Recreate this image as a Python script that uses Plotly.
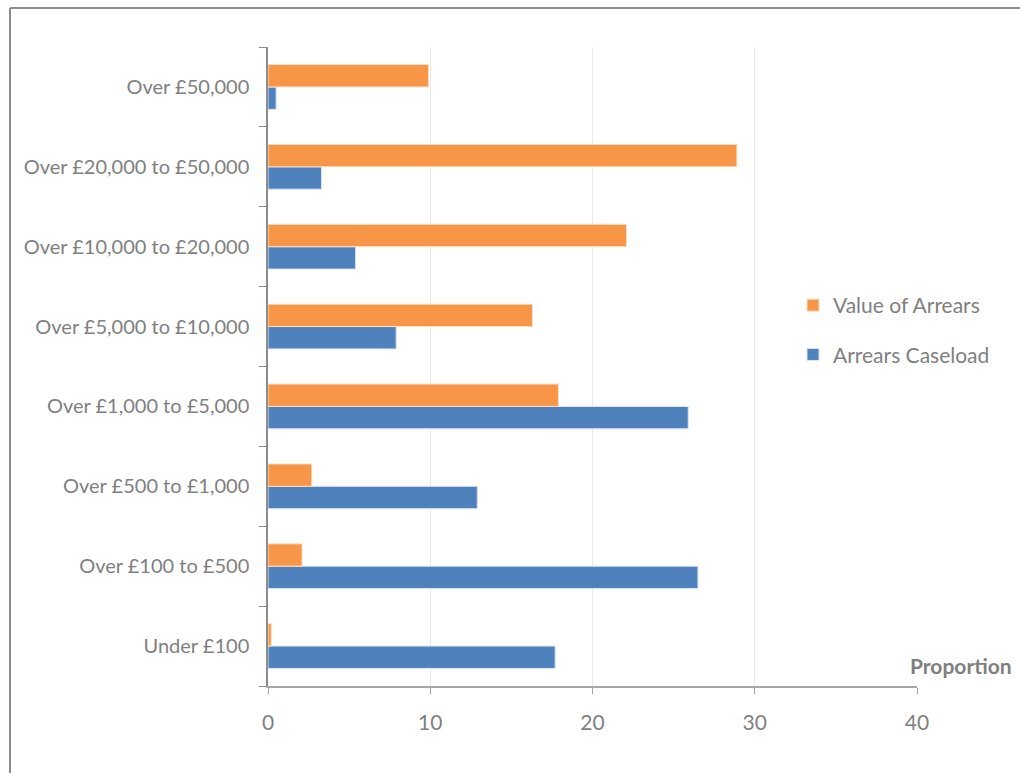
import plotly.graph_objects as go

categories = ["Under £100", "Over £100 to £500", "Over £500 to £1,000", "Over £1,000 to £5,000",
              "Over £5,000 to £10,000", "Over £10,000 to £20,000", "Over £20,000 to £50,000", "Over £50,000"]
value_of_arrears = [0.2, 2.1, 2.7, 17.9, 16.3, 22.1, 28.9, 9.9]
arrears_caseload = [17.7, 26.5, 12.9, 25.9, 7.9, 5.4, 3.3, 0.5]
x_ticks = [0, 10, 20, 30, 40]

BLUE = "#4F81BD"
ORANGE = "#F79646"
GREY = "#7f7f7f"
FONT = "Lato, 'Open Sans', sans-serif"

fig = go.Figure()
fig.add_trace(go.Bar(y=categories, x=arrears_caseload, orientation="h", name="Arrears Caseload",
                     marker=dict(color=BLUE, line=dict(color="#dbe5f1", width=1)),
                     legendgroup="b", legendrank=2))
fig.add_trace(go.Bar(y=categories, x=value_of_arrears, orientation="h", name="Value of Arrears",
                     marker=dict(color=ORANGE, line=dict(color="#fde0c8", width=1)),
                     legendgroup="a", legendrank=1))

L, R, T, B = 268, 917, 47, 686
W, H = 1020, 773
pw, ph = R - L, B - T

fig.update_layout(
    width=W, height=H,
    margin=dict(l=L, r=W - R, t=T, b=H - B, autoexpand=False),
    paper_bgcolor="white", plot_bgcolor="white",
    barmode="group", bargap=0.44, bargroupgap=0,
    font=dict(family=FONT, size=20, color=GREY),
    showlegend=True,
    legend=dict(x=(793 - L) / pw, y=(B - 285) / ph, xanchor="left", yanchor="top",
                traceorder="grouped", tracegroupgap=19, font=dict(size=21, color=GREY),
                bgcolor="rgba(0,0,0,0)", itemwidth=30),
    xaxis=dict(range=[0, 40], tickvals=x_ticks, ticktext=[str(v) for v in x_ticks],
               showgrid=True, gridcolor="#e9e9e9", gridwidth=1,
               showline=True, linecolor="#a6a6a6", linewidth=1.5,
               ticks="outside", ticklen=6, tickcolor="#a6a6a6",
               tickfont=dict(size=21, color=GREY), ticklabelstandoff=11, zeroline=False,
               fixedrange=True),
    yaxis=dict(categoryorder="array", categoryarray=categories,
               showline=True, linecolor="#8c8c8c", linewidth=1.5,
               ticks="outside", ticklen=7, tickcolor="#8c8c8c", tickson="boundaries",
               tickfont=dict(size=20, color=GREY), ticklabelstandoff=13, showgrid=False,
               fixedrange=True),
    annotations=[dict(text="<b>Proportion</b>", xref="paper", yref="paper",
                      x=(1014 - L) / pw, y=(B - 665) / ph, xanchor="right", yanchor="middle",
                      showarrow=False, font=dict(size=21, color=GREY))],
    shapes=[
        dict(type="line", xref="paper", yref="paper", x0=(10 - L) / pw, x1=(1030 - L) / pw,
             y0=(B - 8) / ph, y1=(B - 8) / ph, line=dict(color="#8c8c8c", width=2)),
        dict(type="line", xref="paper", yref="paper", x0=(10 - L) / pw, x1=(10 - L) / pw,
             y0=(B - 8) / ph, y1=(B - 790) / ph, line=dict(color="#8c8c8c", width=2)),
    ],
)

fig.write_html("out.html", config={"displayModeBar": False},
               post_script="document.body.style.margin='0';document.body.style.padding='0';")
